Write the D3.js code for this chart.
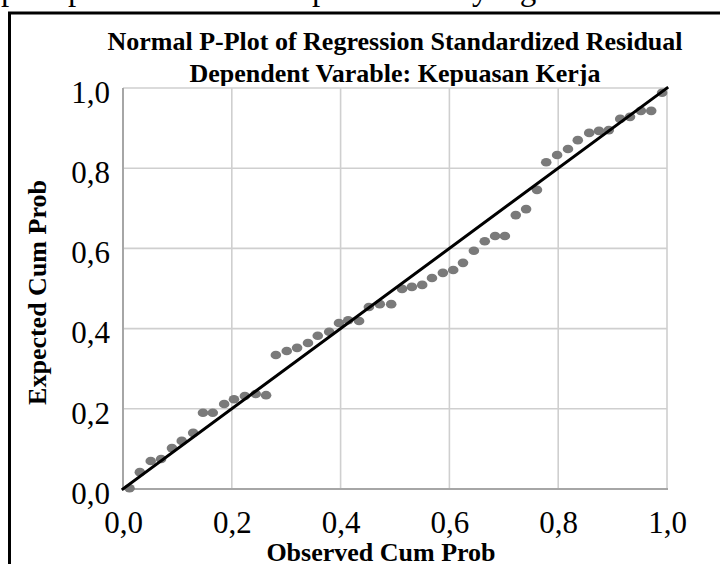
<!DOCTYPE html>
<html>
<head>
<meta charset="utf-8">
<script src="https://cdn.jsdelivr.net/npm/d3@7"></script>
<style>
  html, body { margin: 0; padding: 0; background: #fff; }
  svg { display: block; }
</style>
</head>
<body>
<svg id="chart" width="720" height="564"></svg>
<script>
// ---- Data ----
const observed = [0.012, 0.031, 0.051, 0.070, 0.090, 0.108, 0.129, 0.147, 0.165, 0.186,
  0.204, 0.224, 0.244, 0.263, 0.281, 0.301, 0.320, 0.340, 0.358, 0.379,
  0.397, 0.414, 0.434, 0.452, 0.472, 0.493, 0.513, 0.531, 0.550, 0.568,
  0.588, 0.607, 0.625, 0.645, 0.665, 0.684, 0.702, 0.722, 0.741, 0.761,
  0.778, 0.798, 0.818, 0.836, 0.857, 0.875, 0.893, 0.914, 0.932, 0.952,
  0.971, 0.991];
const expected = [0.002, 0.042, 0.070, 0.075, 0.102, 0.120, 0.140, 0.190, 0.190, 0.212,
  0.224, 0.232, 0.237, 0.234, 0.334, 0.344, 0.352, 0.364, 0.382, 0.392,
  0.414, 0.421, 0.419, 0.454, 0.461, 0.461, 0.499, 0.504, 0.509, 0.526,
  0.539, 0.546, 0.564, 0.594, 0.618, 0.631, 0.631, 0.683, 0.698, 0.746,
  0.815, 0.833, 0.848, 0.870, 0.888, 0.893, 0.895, 0.923, 0.928, 0.943,
  0.943, 0.988];
const xTicks = [0, 0.2, 0.4, 0.6, 0.8, 1.0];
const yTicks = [0, 0.2, 0.4, 0.6, 0.8, 1.0];
const titleLines = ["Normal P-Plot of Regression Standardized Residual", "Dependent Varable: Kepuasan Kerja"];
const xLabel = "Observed Cum Prob";
const yLabel = "Expected Cum Prob";
const docWords = [["pola", 1], ["pada", 68], ["plot", 312], ["yang", 472]];

const fmt = d => d.toFixed(1).replace(".", ",");
const serif = "'Liberation Serif', 'Times New Roman', serif";

const svg = d3.select("#chart");
const x = d3.scaleLinear().domain([0, 1]).range([123, 667]);
const y = d3.scaleLinear().domain([0, 1]).range([489, 88]);

svg.append("rect").attr("width", 720).attr("height", 564).attr("fill", "#fff");

// cropped document text above the figure (only descenders visible)
svg.append("g").selectAll("text").data(docWords).join("text")
  .attr("x", d => d[1]).attr("y", -0.5)
  .attr("font-family", serif).attr("font-size", 33).attr("fill", "#000")
  .text(d => d[0]);

// figure frame
svg.append("rect").attr("x", 9.5).attr("y", 13).attr("width", 800).attr("height", 700)
  .attr("fill", "none").attr("stroke", "#000").attr("stroke-width", 3);

// titles
svg.append("g").selectAll("text").data(titleLines).join("text")
  .attr("x", (x(0) + x(1)) / 2).attr("y", (d, i) => 50 + i * 32)
  .attr("text-anchor", "middle")
  .attr("font-family", serif).attr("font-weight", "bold").attr("font-size", 26)
  .attr("fill", "#000").text(d => d);

// plot background (clips bottom of second title line)
svg.append("rect").attr("x", x(0)).attr("y", 86)
  .attr("width", x(1) - x(0)).attr("height", y(0) - 86).attr("fill", "#fff");

// grid
const grid = svg.append("g");
grid.selectAll("line.v").data(xTicks.slice(1)).join("line").attr("class", "v")
  .attr("x1", d => x(d)).attr("x2", d => x(d)).attr("y1", y(1)).attr("y2", y(0))
  .attr("stroke", "#cfcfcf").attr("stroke-width", 1.6);
grid.selectAll("line.h").data(yTicks.slice(1)).join("line").attr("class", "h")
  .attr("y1", d => y(d)).attr("y2", d => y(d)).attr("x1", x(0)).attr("x2", x(1))
  .attr("stroke", "#cfcfcf").attr("stroke-width", 1.6);
// left & bottom frame of plot
svg.append("line").attr("x1", x(0)).attr("x2", x(0)).attr("y1", y(1)).attr("y2", y(0) + 1)
  .attr("stroke", "#a6a6a6").attr("stroke-width", 2);
svg.append("line").attr("x1", x(0)).attr("x2", x(1) + 1).attr("y1", y(0)).attr("y2", y(0))
  .attr("stroke", "#a6a6a6").attr("stroke-width", 2);

// axes
const xAxis = svg.append("g").attr("transform", `translate(0,${y(0)})`)
  .call(d3.axisBottom(x).tickValues(xTicks).tickFormat(fmt).tickSize(0));
xAxis.select(".domain").remove();
xAxis.selectAll("text").attr("y", 44).attr("dy", null)
  .attr("font-family", serif).attr("font-size", 31).attr("fill", "#000");

const yAxis = svg.append("g").attr("transform", `translate(${x(0)},0)`)
  .call(d3.axisLeft(y).tickValues(yTicks).tickFormat(fmt).tickSize(0));
yAxis.select(".domain").remove();
yAxis.selectAll("text").attr("x", -13).attr("y", 4).attr("dy", "0.33em")
  .attr("font-family", serif).attr("font-size", 31).attr("fill", "#000");

// axis titles
svg.append("text").attr("x", (x(0) + x(1)) / 2 - 14).attr("y", 561)
  .attr("text-anchor", "middle").attr("font-family", serif).attr("font-weight", "bold")
  .attr("font-size", 26).attr("fill", "#000").text(xLabel);
svg.append("text").attr("transform", `translate(46,${(y(0) + y(1)) / 2 + 4}) rotate(-90)`)
  .attr("text-anchor", "middle").attr("font-family", serif).attr("font-weight", "bold")
  .attr("font-size", 26).attr("fill", "#000").text(yLabel);

// points
const pts = observed.map((o, i) => ({ o, e: expected[i] }));
svg.append("g").selectAll("ellipse").data(pts).join("ellipse")
  .attr("cx", d => x(d.o)).attr("cy", d => y(d.e))
  .attr("rx", 5.3).attr("ry", 4.3).attr("fill", "#7a7a7a");

// reference line
svg.append("line").attr("x1", x(0)).attr("y1", y(0)).attr("x2", x(1)).attr("y2", y(1))
  .attr("stroke", "#000").attr("stroke-width", 3).attr("stroke-linecap", "square");
</script>
</body>
</html>
